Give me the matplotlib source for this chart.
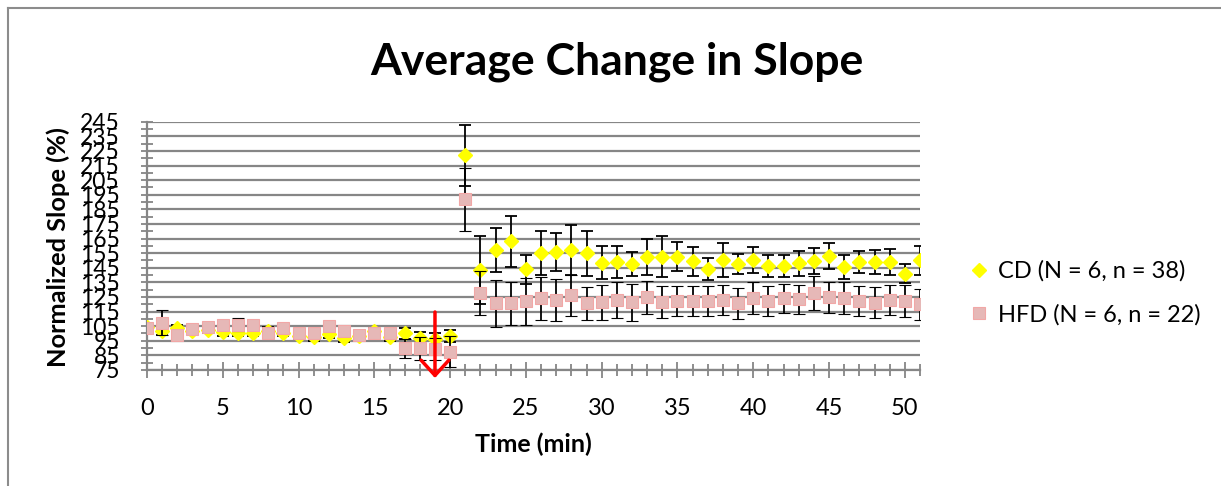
import matplotlib
matplotlib.use("Agg")
import matplotlib.pyplot as plt
from matplotlib.lines import Line2D
from matplotlib.ticker import MultipleLocator

plt.rcParams['font.family'] = ['Lato', 'DejaVu Sans']

time_min = list(range(0, 52))
cd_mean = [104.5, 102, 103.5, 102, 102.5, 101, 100.5, 100.5, 102, 100.5,
           98.5, 97.5, 99.5, 97, 98.5, 101.5, 97.5, 100, 97, 96,
           98.5, 222, 143.5, 157, 163, 144, 155, 155.5, 157, 155,
           148.5, 149, 147.5, 152.5, 152.5, 152.5, 149.5, 144, 150.5, 147.5,
           150.5, 146.5, 146.5, 148, 149.5, 153, 145.5, 149, 149, 149,
           141, 150]
cd_err = [2.5, 3, 2.5, 2.5, 2.5, 2.5, 2.5, 2.5, 2.5, 2.5,
          2.5, 2.5, 2.5, 2.5, 2.5, 2.5, 2.5, 4, 4, 4,
          4, 21, 23, 15, 17.5, 10, 15, 13, 17, 15.5,
          11.5, 11, 8, 12.5, 14, 10, 10, 7.5, 11.5, 7,
          9, 7.5, 7.5, 8.7, 9, 9, 8, 7.7, 8.3, 9,
          6.6, 10]
hfd_mean = [104, 107.5, 99, 103, 104.5, 106, 106, 106, 100.5, 104,
            100.5, 100, 105.3, 101.5, 99, 100, 100, 89.8, 89.8, 89.3,
            87.5, 192, 127.5, 120.6, 120.6, 122, 124, 123, 126.3, 120.6,
            121.3, 122.9, 121.3, 124.7, 121.3, 122.2, 122.2, 122.2, 122.9, 120.6,
            124, 122.2, 124, 123.3, 127.5, 124.7, 124, 122.2, 121.1, 122.9,
            122, 120]
hfd_err = [2.5, 8.5, 2.5, 2.5, 2.5, 2.5, 4.3, 2.5, 2.5, 2.5,
           2.5, 2.5, 2.5, 2.5, 2.5, 2.5, 2.5, 6.4, 8, 7.5,
           10.7, 21.5, 15, 16, 14.5, 16, 15, 14.5, 14, 11.5,
           12, 12.5, 12.5, 11.5, 11, 10.5, 10.5, 10, 10.5, 10.5,
           11, 10.5, 10, 10, 11.7, 10.5, 11, 10.5, 10.7, 10.5,
           11, 10.5]
labels = ['CD (N = 6, n = 38)', 'HFD (N = 6, n = 22)']
y_ticks = list(range(75, 246, 10))
x_ticks = list(range(0, 51, 5))
arrow_x = 19

W, H = 1221, 486
fig = plt.figure(figsize=(W / 100, H / 100), dpi=100)
ax = fig.add_axes([147 / W, 1 - 370 / H, (920 - 147) / W, (370 - 121.7) / H])

grid_c = '#868686'
yellow = '#FFFF00'
pink_face = '#E6B8B7'
pink_edge = '#F2A7A6'

ax.errorbar(time_min, cd_mean, yerr=cd_err, fmt='D', ms=7.5, mfc=yellow, mec=yellow,
            ecolor='black', elinewidth=1.3, capsize=4.5, capthick=1.3, zorder=3)
ax.errorbar(time_min, hfd_mean, yerr=hfd_err, fmt='s', ms=8.5, mfc=pink_face, mec=pink_edge,
            mew=0.8, ecolor='black', elinewidth=1.3, capsize=4.5, capthick=1.3, zorder=4)

ax.set_xlim(0, 51)
ax.set_ylim(75, 245)
ax.set_yticks(y_ticks)
ax.yaxis.set_minor_locator(MultipleLocator(5))
ax.set_xticks(x_ticks)
ax.xaxis.set_minor_locator(MultipleLocator(1))
ax.grid(axis='y', which='major', color=grid_c, lw=1.6, zorder=0)
ax.set_axisbelow(True)
for s in ['top', 'right']:
    ax.spines[s].set_visible(False)
for s in ['left', 'bottom']:
    ax.spines[s].set_color(grid_c)
    ax.spines[s].set_linewidth(1.6)
ax.tick_params(axis='y', which='both', direction='inout', length=9, width=1.3, color=grid_c,
               labelsize=16.5, pad=15)
ax.tick_params(axis='x', which='major', direction='inout', length=12, width=1.3, color=grid_c,
               labelsize=17, pad=14)
ax.tick_params(axis='x', which='minor', direction='inout', length=9, width=1.3, color=grid_c)

ax.annotate('', xy=(arrow_x, 69.5), xytext=(arrow_x, 114.7),
            arrowprops=dict(arrowstyle='->,head_length=0.55,head_width=0.5', color='red',
                            lw=2.5, mutation_scale=20, shrinkA=0, shrinkB=0),
            annotation_clip=False, zorder=6)

fig.text(617 / W, 1 - 62 / H, 'Average Change in Slope', ha='center', va='center',
         fontsize=32, fontweight='bold')
fig.text(58 / W, 1 - 247 / H, 'Normalized Slope (%)', ha='center', va='center',
         rotation=90, fontsize=18.3, fontweight='bold')
fig.text(533 / W, 1 - 444 / H, 'Time (min)', ha='center', va='center',
         fontsize=18, fontweight='bold')

handles = [Line2D([], [], ls='none', marker='D', ms=7.5, mfc=yellow, mec=yellow),
           Line2D([], [], ls='none', marker='s', ms=8.5, mfc=pink_face, mec=pink_edge, mew=0.8)]
fig.legend(handles, labels, loc='center left', bbox_to_anchor=(968 / W, 1 - 293 / H),
           frameon=False, fontsize=17, handlelength=0.9, handletextpad=0.35,
           labelspacing=0.95, borderaxespad=0, borderpad=0)

# chart area border
fig.add_artist(Line2D([8 / W, 8 / W], [0, 1 - 8 / H], color='#8c8c8c', lw=1.5))
fig.add_artist(Line2D([8 / W, 1], [1 - 8 / H, 1 - 8 / H], color='#8c8c8c', lw=1.5))

fig.savefig('out.png', dpi=100)
